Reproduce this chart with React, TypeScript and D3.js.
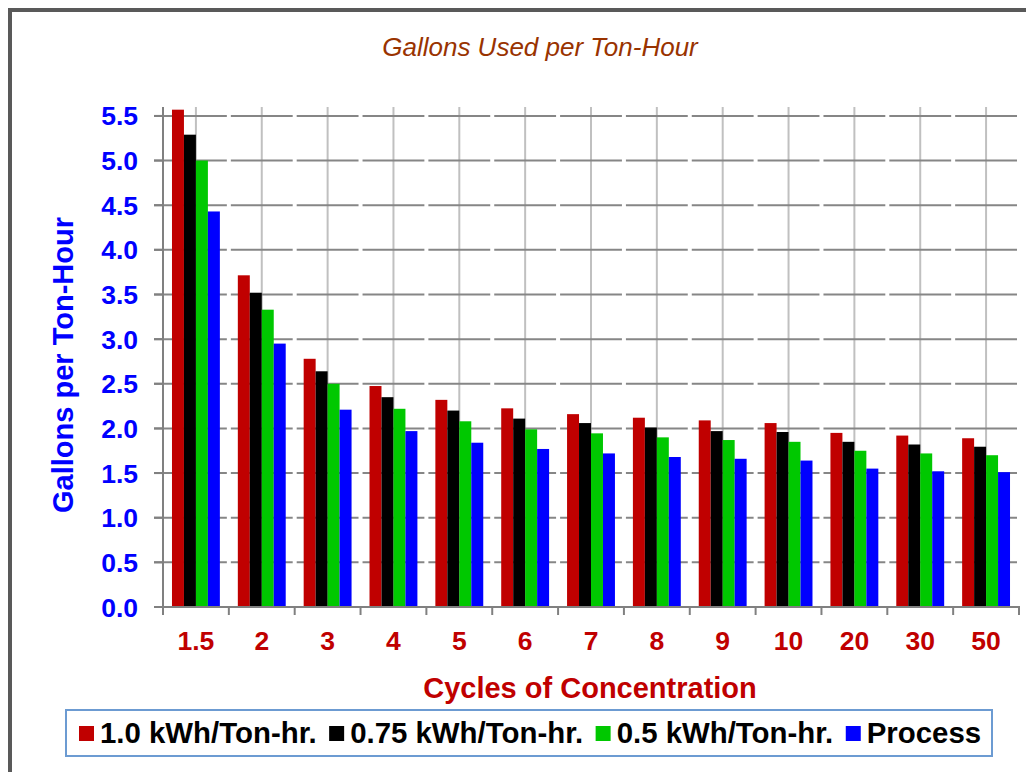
import React, { useEffect, useRef } from "react";
import * as d3 from "d3";

const categories = ["1.5", "2", "3", "4", "5", "6", "7", "8", "9", "10", "20", "30", "50"];
const kwh10 = [5.57, 3.715, 2.78, 2.475, 2.32, 2.225, 2.16, 2.12, 2.09, 2.06, 1.95, 1.92, 1.89];
const kwh075 = [5.29, 3.52, 2.64, 2.35, 2.2, 2.11, 2.06, 2.01, 1.97, 1.96, 1.85, 1.82, 1.795];
const kwh05 = [5.0, 3.33, 2.5, 2.22, 2.08, 1.99, 1.945, 1.9, 1.87, 1.85, 1.75, 1.72, 1.7];
const processVals = [4.43, 2.95, 2.21, 1.97, 1.84, 1.77, 1.72, 1.68, 1.66, 1.64, 1.55, 1.52, 1.51];
const seriesNames = ["1.0 kWh/Ton-hr.", "0.75 kWh/Ton-hr.", "0.5 kWh/Ton-hr.", "Process"];
const seriesColors = ["#C00000", "#000000", "#00C800", "#0000FF"];
const yTicks = [0, 0.5, 1.0, 1.5, 2.0, 2.5, 3.0, 3.5, 4.0, 4.5, 5.0, 5.5];

const FONT = "'Liberation Sans', Arial, Helvetica, sans-serif";

export default function App() {
  const ref = useRef<SVGSVGElement | null>(null);

  useEffect(() => {
    const svg = d3.select(ref.current);
    svg.selectAll("*").remove();
    const W = 1026, H = 772;
    const left = 163, right = 1019, top = 107, bottom = 607;

    // outer frame
    svg.append("rect").attr("x", 0).attr("y", 0).attr("width", W).attr("height", H).attr("fill", "#fff");
    svg.append("rect").attr("x", 10).attr("y", 10).attr("width", 1040).attr("height", 800)
      .attr("fill", "none").attr("stroke", "#595959").attr("stroke-width", 4);

    const x = d3.scaleBand<string>().domain(categories).range([left, right]).padding(0);
    const y = d3.scaleLinear().domain([0, 5.6]).range([bottom, top]);
    const step = x.step();
    const barW = step / 5.5;
    const inner = d3.scaleBand<number>().domain([0, 1, 2, 3])
      .range([barW * 0.75, step - barW * 0.75]).padding(0);

    const g = svg.append("g");

    // vertical gridlines at category centers
    g.selectAll("line.vg").data(categories).enter().append("line")
      .attr("x1", d => x(d)! + step / 2).attr("x2", d => x(d)! + step / 2)
      .attr("y1", top).attr("y2", bottom)
      .attr("stroke", "#C0C0C0").attr("stroke-width", 2);

    // horizontal gridlines, broken at category boundaries
    yTicks.filter(t => t > 0).forEach(t => {
      categories.forEach((c, i) => {
        const x0 = i === 0 ? left - 9 : x(c)! + 2;
        const x1 = x(c)! + step - 2;
        g.append("line").attr("x1", x0).attr("x2", x1).attr("y1", y(t)).attr("y2", y(t))
          .attr("stroke", "#868686").attr("stroke-width", 2);
      });
    });

    // bars
    const allSeries = [kwh10, kwh075, kwh05, processVals];
    allSeries.forEach((vals, si) => {
      g.selectAll(`rect.s${si}`).data(vals).enter().append("rect")
        .attr("x", (_d, i) => x(categories[i])! + inner(si)!)
        .attr("width", inner.bandwidth())
        .attr("y", d => y(d))
        .attr("height", d => bottom - y(d))
        .attr("fill", seriesColors[si]);
    });

    // axes
    g.append("line").attr("x1", left).attr("x2", left).attr("y1", top).attr("y2", bottom + 1)
      .attr("stroke", "#808080").attr("stroke-width", 2);
    g.append("line").attr("x1", left - 9).attr("x2", right + 1).attr("y1", bottom).attr("y2", bottom)
      .attr("stroke", "#808080").attr("stroke-width", 2);
    yTicks.forEach(t => {
      g.append("line").attr("x1", left - 9).attr("x2", left).attr("y1", y(t)).attr("y2", y(t))
        .attr("stroke", "#808080").attr("stroke-width", 2);
    });
    const bounds = categories.map(c => x(c)!).concat([right]);
    bounds.forEach(b => {
      g.append("line").attr("x1", b).attr("x2", b).attr("y1", bottom).attr("y2", bottom + 8)
        .attr("stroke", "#808080").attr("stroke-width", 2);
    });

    // y tick labels
    g.selectAll("text.yt").data(yTicks).enter().append("text")
      .attr("x", 138).attr("y", d => y(d) + 9.5)
      .attr("text-anchor", "end")
      .attr("font-family", FONT).attr("font-weight", "bold").attr("font-size", 26.5)
      .attr("fill", "#0000FF").text(d => d.toFixed(1));

    // x tick labels
    g.selectAll("text.xt").data(categories).enter().append("text")
      .attr("x", d => x(d)! + step / 2).attr("y", 650)
      .attr("text-anchor", "middle")
      .attr("font-family", FONT).attr("font-weight", "bold").attr("font-size", 26.5)
      .attr("fill", "#C00000").text(d => d);

    // titles
    svg.append("text").attr("x", 540).attr("y", 56).attr("text-anchor", "middle")
      .attr("font-family", FONT).attr("font-style", "italic").attr("font-size", 26)
      .attr("fill", "#993300").text("Gallons Used per Ton-Hour");

    svg.append("text").attr("transform", "translate(73,365) rotate(-90)").attr("text-anchor", "middle")
      .attr("font-family", FONT).attr("font-weight", "bold").attr("font-size", 29)
      .attr("fill", "#0000FF").text("Gallons per Ton-Hour");

    svg.append("text").attr("x", 590).attr("y", 698).attr("text-anchor", "middle")
      .attr("font-family", FONT).attr("font-weight", "bold").attr("font-size", 29)
      .attr("fill", "#C00000").text("Cycles of Concentration");

    // legend
    svg.append("rect").attr("x", 66).attr("y", 710).attr("width", 926).attr("height", 46)
      .attr("fill", "#fff").attr("stroke", "#6C9BD2").attr("stroke-width", 2);
    let cx = 79;
    seriesNames.forEach((name, i) => {
      svg.append("rect").attr("x", cx).attr("y", 726).attr("width", 15).attr("height", 15)
        .attr("fill", seriesColors[i]);
      const t = svg.append("text").attr("x", cx + 21).attr("y", 743)
        .attr("font-family", FONT).attr("font-weight", "bold").attr("font-size", 29.4)
        .attr("fill", "#000").text(name);
      const w = (t.node() as SVGTextElement).getComputedTextLength();
      cx = cx + 21 + w + 12.5;
    });
  }, []);

  return (
    <svg ref={ref} width={1026} height={772}
      style={{ position: "absolute", left: 0, top: 0, display: "block" }} />
  );
}
